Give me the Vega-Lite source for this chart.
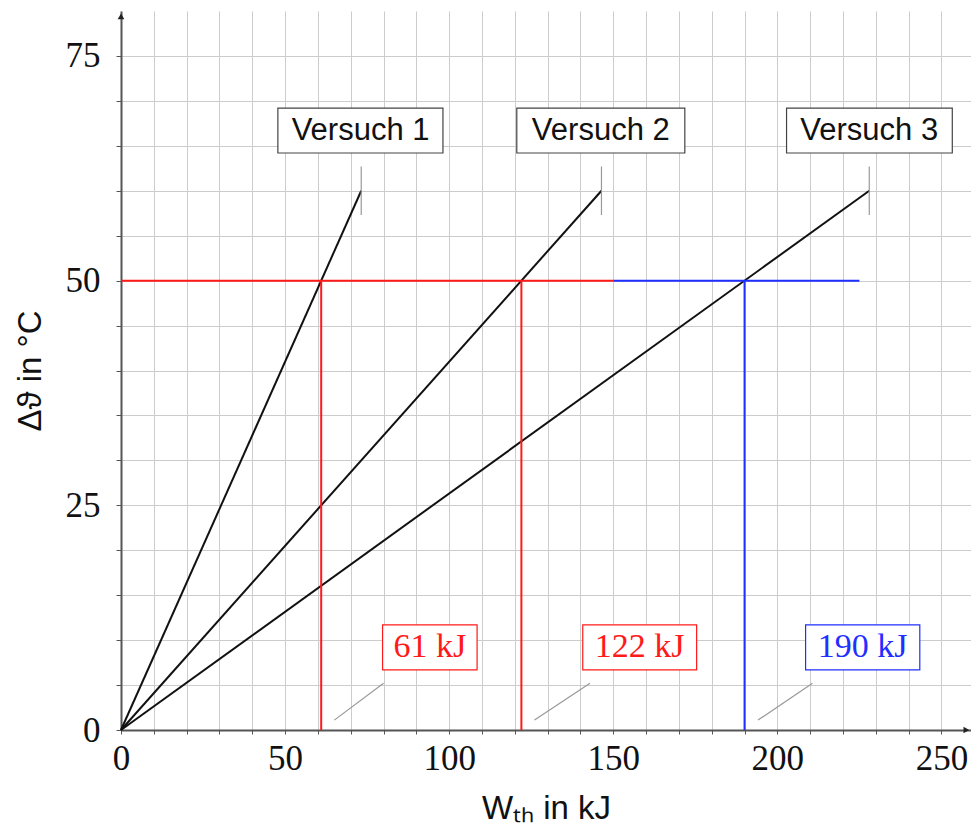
{
  "$schema": "https://vega.github.io/schema/vega-lite/v6.json",
  "width": 850,
  "height": 719,
  "autosize": {"type": "none"},
  "padding": {"left": 121, "top": 11, "right": 0, "bottom": 103},
  "background": "white",
  "config": {"view": {"stroke": null}},
  "resolve": {"axis": {"x": "independent", "y": "independent"}},
  "datasets": {
    "kurven": [
      {"versuch": "Versuch 1", "x": 0, "y": 0},
      {"versuch": "Versuch 1", "x": 73.2, "y": 60},
      {"versuch": "Versuch 2", "x": 0, "y": 0},
      {"versuch": "Versuch 2", "x": 146.4, "y": 60},
      {"versuch": "Versuch 3", "x": 0, "y": 0},
      {"versuch": "Versuch 3", "x": 228, "y": 60}
    ],
    "linien": [
      {"farbe": "rot", "x": 0, "x2": 150, "y": 50, "y2": 50},
      {"farbe": "blau", "x": 150, "x2": 225, "y": 50, "y2": 50},
      {"farbe": "rot", "x": 61, "x2": 61, "y": 0, "y2": 50},
      {"farbe": "rot", "x": 122, "x2": 122, "y": 0, "y2": 50},
      {"farbe": "blau", "x": 190, "x2": 190, "y": 0, "y2": 50}
    ],
    "pins": [
      {"x": 73.2, "x2": 73.2, "y": 57.3, "y2": 62.7},
      {"x": 146.4, "x2": 146.4, "y": 57.3, "y2": 62.7},
      {"x": 228, "x2": 228, "y": 57.3, "y2": 62.7},
      {"x": 65, "x2": 80, "y": 1.1, "y2": 5.2},
      {"x": 126, "x2": 142.9, "y": 1.1, "y2": 5.2},
      {"x": 194.1, "x2": 210.7, "y": 1.1, "y2": 5.2}
    ],
    "boxen": [
      {"text": "Versuch 1", "x": 47.8, "x2": 98.1, "y": 64.2, "y2": 69.2, "xm": 73, "ym": 66.7},
      {"text": "Versuch 2", "x": 120.6, "x2": 171.8, "y": 64.2, "y2": 69.2, "xm": 146.2, "ym": 66.7},
      {"text": "Versuch 3", "x": 202.8, "x2": 253.3, "y": 64.2, "y2": 69.2, "xm": 228, "ym": 66.7}
    ],
    "ergebnisse": [
      {"text": "61 kJ", "farbe": "rot", "x": 79.7, "x2": 108.5, "y": 6.7, "y2": 11.7, "xm": 94.1, "ym": 9.2},
      {"text": "122 kJ", "farbe": "rot", "x": 140.7, "x2": 175.4, "y": 6.7, "y2": 11.7, "xm": 158, "ym": 9.2},
      {"text": "190 kJ", "farbe": "blau", "x": 208.6, "x2": 243.4, "y": 6.7, "y2": 11.7, "xm": 226, "ym": 9.2}
    ],
    "pfeil_y": [{"x": 0, "y": 79.4}],
    "pfeil_x": [{"x": 257.6, "y": 0}]
  },
  "layer": [
    {
      "data": {"name": "kurven"},
      "mark": {"type": "line", "color": "#111111", "strokeWidth": 2},
      "encoding": {
        "x": {
          "field": "x", "type": "quantitative",
          "scale": {"domain": [0, 259], "nice": false, "zero": false},
          "axis": {
            "orient": "bottom",
            "values": [0, 10, 20, 30, 40, 50, 60, 70, 80, 90, 100, 110, 120, 130, 140, 150, 160, 170, 180, 190, 200, 210, 220, 230, 240, 250],
            "labels": false, "title": null,
            "grid": true, "gridColor": "#cccccc", "gridWidth": 1,
            "domain": true, "domainColor": "#555555", "domainWidth": 2,
            "ticks": true, "tickColor": "#555555", "tickSize": 4, "tickWidth": 1
          }
        },
        "y": {
          "field": "y", "type": "quantitative",
          "scale": {"domain": [0, 80], "nice": false, "zero": false},
          "axis": {
            "orient": "left",
            "values": [0, 5, 10, 15, 20, 25, 30, 35, 40, 45, 50, 55, 60, 65, 70, 75],
            "labels": false, "title": null,
            "grid": true, "gridColor": "#cccccc", "gridWidth": 1,
            "domain": true, "domainColor": "#555555", "domainWidth": 2,
            "ticks": true, "tickColor": "#555555", "tickSize": 5, "tickWidth": 1
          }
        },
        "detail": {"field": "versuch", "type": "nominal"}
      }
    },
    {
      "data": {"name": "linien"},
      "mark": {"type": "rule", "strokeWidth": 2},
      "encoding": {
        "x": {
          "field": "x", "type": "quantitative",
          "axis": {
            "orient": "bottom",
            "values": [0, 50, 100, 150, 200, 250],
            "grid": false, "domain": false, "ticks": false,
            "labelFont": "Liberation Serif", "labelFontSize": 35, "labelColor": "#111111",
            "labelPadding": 11, "labelFlush": false, "labelOverlap": false,
            "title": "Wₜₕ in kJ", "titleFont": "Liberation Sans", "titleFontSize": 33,
            "titleFontWeight": "normal", "titleColor": "#111111", "titlePadding": 16
          }
        },
        "x2": {"field": "x2"},
        "y": {
          "field": "y", "type": "quantitative",
          "axis": {
            "orient": "left",
            "values": [0, 25, 50, 75],
            "grid": false, "domain": false, "ticks": false,
            "labelFont": "Liberation Serif", "labelFontSize": 35, "labelColor": "#111111",
            "labelPadding": 21, "labelFlush": false, "labelOverlap": false,
            "title": "Δϑ in °C", "titleFont": "Liberation Sans", "titleFontSize": 33,
            "titleFontWeight": "normal", "titleColor": "#111111", "titlePadding": 18
          }
        },
        "y2": {"field": "y2"},
        "color": {"field": "farbe", "type": "nominal", "scale": {"domain": ["rot", "blau"], "range": ["#ff1a1a", "#1f2fff"]}, "legend": null}
      }
    },
    {
      "data": {"name": "pins"},
      "mark": {"type": "rule", "strokeWidth": 1.2, "color": "#999999"},
      "encoding": {
        "x": {"field": "x", "type": "quantitative", "axis": null},
        "x2": {"field": "x2"},
        "y": {"field": "y", "type": "quantitative", "axis": null},
        "y2": {"field": "y2"}
      }
    },
    {
      "data": {"name": "boxen"},
      "mark": {"type": "rect", "fill": "white", "stroke": "#444444", "strokeWidth": 1.2},
      "encoding": {
        "x": {"field": "x", "type": "quantitative", "axis": null},
        "x2": {"field": "x2"},
        "y": {"field": "y", "type": "quantitative", "axis": null},
        "y2": {"field": "y2"}
      }
    },
    {
      "data": {"name": "boxen"},
      "mark": {"type": "text", "font": "Liberation Sans", "fontSize": 31, "align": "center", "baseline": "middle", "color": "#111111"},
      "encoding": {
        "x": {"field": "xm", "type": "quantitative", "axis": null},
        "y": {"field": "ym", "type": "quantitative", "axis": null},
        "text": {"field": "text"}
      }
    },
    {
      "data": {"name": "ergebnisse"},
      "mark": {"type": "rect", "fill": "white", "strokeWidth": 1.2},
      "encoding": {
        "x": {"field": "x", "type": "quantitative", "axis": null},
        "x2": {"field": "x2"},
        "y": {"field": "y", "type": "quantitative", "axis": null},
        "y2": {"field": "y2"},
        "stroke": {"field": "farbe", "type": "nominal", "scale": {"domain": ["rot", "blau"], "range": ["#ff1a1a", "#1f2fff"]}, "legend": null}
      }
    },
    {
      "data": {"name": "ergebnisse"},
      "mark": {"type": "text", "font": "Liberation Serif", "fontSize": 34, "align": "center", "baseline": "middle"},
      "encoding": {
        "x": {"field": "xm", "type": "quantitative", "axis": null},
        "y": {"field": "ym", "type": "quantitative", "axis": null},
        "text": {"field": "text"},
        "color": {"field": "farbe", "type": "nominal", "legend": null}
      }
    },
    {
      "data": {"name": "pfeil_y"},
      "mark": {"type": "point", "shape": "triangle-up", "filled": true, "color": "#222222", "size": 45, "opacity": 1},
      "encoding": {
        "x": {"field": "x", "type": "quantitative", "axis": null},
        "y": {"field": "y", "type": "quantitative", "axis": null}
      }
    },
    {
      "data": {"name": "pfeil_x"},
      "mark": {"type": "point", "shape": "triangle-right", "filled": true, "color": "#222222", "size": 45, "opacity": 1},
      "encoding": {
        "x": {"field": "x", "type": "quantitative", "axis": null},
        "y": {"field": "y", "type": "quantitative", "axis": null}
      }
    }
  ]
}
